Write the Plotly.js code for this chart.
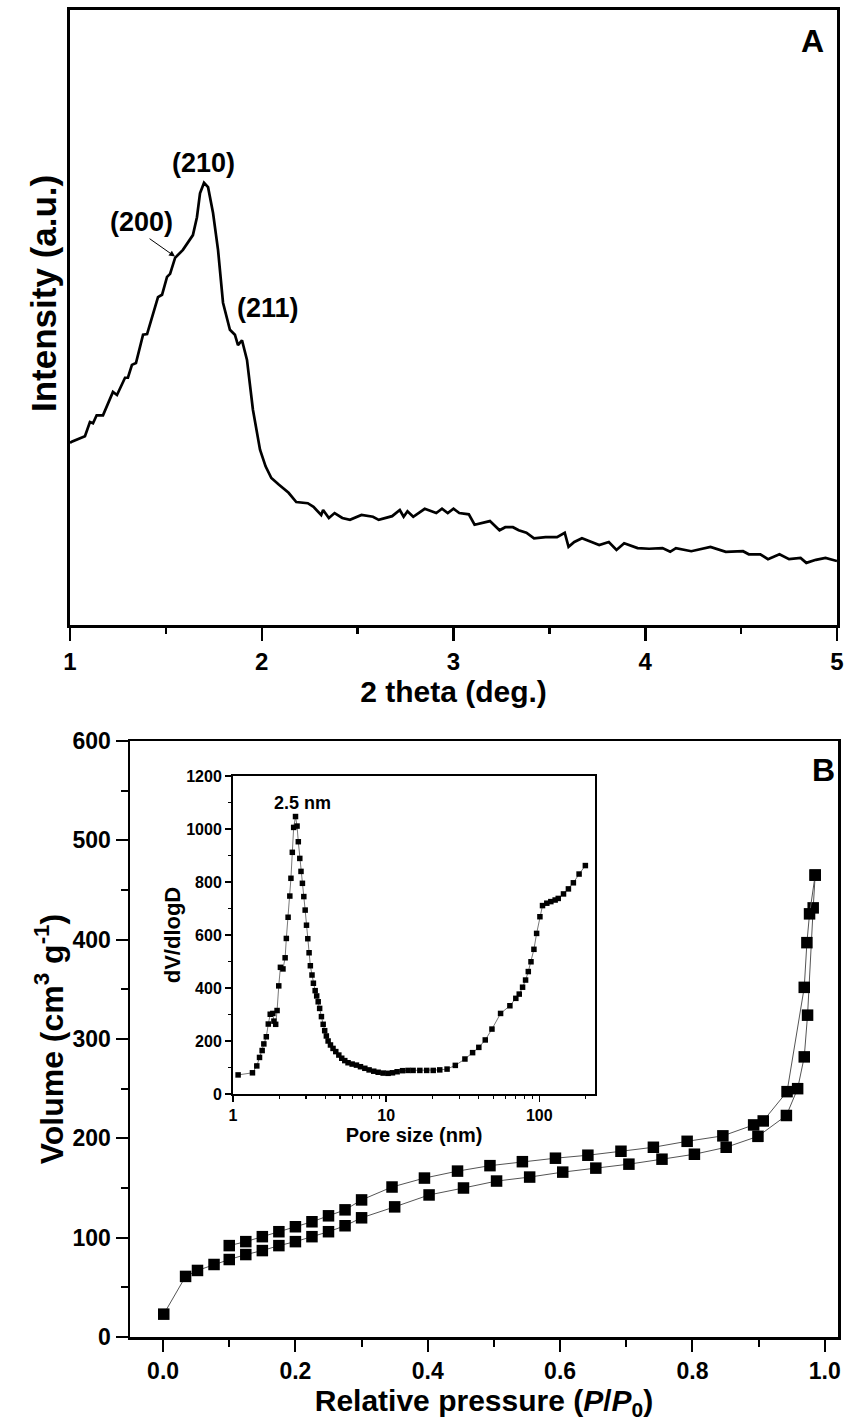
<!DOCTYPE html>
<html>
<head>
<meta charset="utf-8">
<script src="https://cdn.plot.ly/plotly-3.0.1.min.js"></script>
<style>html,body{margin:0;padding:0;background:#fff;}#chart{width:852px;height:1422px;}</style>
</head>
<body>
<div id="chart"></div>
<script>
// Panel A: XRD pattern
const thetaX = [1.00,1.009,1.078,1.104,1.120,1.139,1.172,1.224,1.245,1.287,1.302,1.323,1.344,1.381,1.402,1.459,1.480,1.506,1.522,1.548,1.589,1.615,1.641,1.662,1.678,1.699,1.720,1.746,1.772,1.798,1.834,1.860,1.876,1.897,1.923,1.954,1.991,2.02,2.05,2.09,2.14,2.18,2.24,2.27,2.31,2.32,2.35,2.38,2.42,2.46,2.52,2.58,2.61,2.68,2.72,2.74,2.76,2.79,2.85,2.91,2.94,2.97,3.00,3.03,3.08,3.11,3.16,3.19,3.24,3.27,3.31,3.34,3.38,3.42,3.48,3.54,3.58,3.60,3.63,3.67,3.72,3.76,3.81,3.85,3.89,3.96,4.02,4.09,4.13,4.16,4.24,4.29,4.34,4.42,4.51,4.54,4.60,4.64,4.70,4.75,4.81,4.84,4.89,4.94,5.00];
const intensity = [29.6,29.8,30.7,33.0,32.8,34.1,34.1,37.9,37.4,40.2,40.2,42.3,42.6,47.2,47.3,53.3,53.7,56.6,57.1,59.7,61.0,62.3,63.4,66.3,70.2,71.9,71.2,67.0,61.0,52.4,48.0,47.2,45.5,46.3,43.1,35.0,28.5,25.8,23.9,22.8,21.5,20.0,19.8,19.2,17.9,18.7,17.4,18.2,17.4,17.1,17.9,17.6,17.1,17.7,18.7,17.6,18.5,17.6,18.9,18.2,18.9,18.2,18.9,18.2,18.0,16.3,16.7,16.9,15.4,15.9,15.9,15.4,15.0,14.1,14.3,14.3,15.0,12.7,13.5,14.1,13.5,13.0,13.5,12.2,13.3,12.5,12.4,12.5,11.9,12.5,12.0,12.4,12.7,11.9,12.0,11.5,11.5,10.7,11.5,10.7,10.9,10.1,10.6,10.9,10.4];

// Panel B: N2 isotherm
const adsP = [0.001,0.034,0.052,0.077,0.100,0.125,0.150,0.175,0.200,0.225,0.250,0.275,0.300,0.350,0.402,0.454,0.504,0.554,0.604,0.654,0.704,0.754,0.803,0.851,0.899,0.942,0.959,0.969,0.974,0.9825,0.9855];
const adsV = [23,61,67,73,78,83,87,92,96,101,106,112,120,131,143,150,157,161,166,170,174,179,184,191,202,223,250,282,324,432,465];
const desP = [0.9855,0.977,0.973,0.969,0.943,0.907,0.8925,0.846,0.792,0.741,0.692,0.642,0.593,0.543,0.494,0.445,0.395,0.346,0.300,0.275,0.250,0.225,0.200,0.175,0.150,0.125,0.100];
const desV = [465,426,397,352,247,217.5,213.5,202.5,197,191,187,183,180,176.5,172.5,167,160,151,138,128,122,116,111,106,101,96,92];

// Inset: pore size distribution
const poreD = [1.08,1.34,1.43,1.49,1.55,1.59,1.65,1.70,1.75,1.82,1.85,1.90,1.94,1.99,2.04,2.12,2.19,2.23,2.29,2.35,2.39,2.44,2.49,2.56,2.62,2.67,2.73,2.78,2.84,2.90,2.96,3.02,3.08,3.14,3.20,3.28,3.35,3.44,3.52,3.60,3.68,3.78,3.88,3.97,4.07,4.18,4.33,4.50,4.69,4.91,5.13,5.37,5.64,6.00,6.40,6.80,7.26,7.74,8.30,8.87,9.56,10.3,11.0,11.8,12.8,13.9,15.0,16.6,18.4,20.3,22.4,25.0,28.3,32.7,36.7,40.3,44.4,49.1,55.9,64.3,70.3,74.0,77.8,81.4,84.8,88.3,92.3,96.1,101,105,112,119,127,133,144,155,167,182,200];
const dVdlogD = [72,80,106,138,164,189,216,264,301,304,275,263,315,408,478,472,514,587,667,747,814,912,1006,1047,1011,952,889,840,795,745,694,637,586,533,484,449,418,390,370,348,323,292,263,239,219,200,185,172,160,147,135,126,118,113,109,103,97,91,86,82,79,78,80,84,88,89,89,89,89,89,91,94,108,132,156,176,204,245,304,333,361,377,403,430,462,499,546,606,669,711,720,726,732,738,755,774,797,830,862];

const FAM = 'Liberation Sans, Arial, Helvetica, sans-serif';
function f(size){ return {family: FAM, size: size, color: '#000', weight: 'bold'}; }

const traces = [
  {x: thetaX, y: intensity, xaxis: 'x', yaxis: 'y', mode: 'lines',
   line: {color: '#000', width: 2.7}, showlegend: false, hoverinfo: 'skip'},
  {x: adsP, y: adsV, xaxis: 'x2', yaxis: 'y2', mode: 'lines+markers',
   line: {color: '#555', width: 1}, marker: {symbol: 'square', size: 11.5, color: '#000'}, showlegend: false},
  {x: desP, y: desV, xaxis: 'x2', yaxis: 'y2', mode: 'lines+markers',
   line: {color: '#555', width: 1}, marker: {symbol: 'square', size: 11.5, color: '#000'}, showlegend: false},
  {x: poreD, y: dVdlogD, xaxis: 'x3', yaxis: 'y3', mode: 'lines+markers',
   line: {color: '#555', width: 0.8}, marker: {symbol: 'square', size: 5.5, color: '#000'}, showlegend: false}
];

const common = {showgrid: false, zeroline: false, showline: true, mirror: true, linecolor: '#000'};

const layout = {
  width: 852, height: 1422, autosize: false,
  margin: {l: 0, r: 0, t: 0, b: 0},
  paper_bgcolor: '#fff', plot_bgcolor: 'rgba(0,0,0,0)',
  font: f(20),
  xaxis: Object.assign({}, common, {
    domain: [70/852, 837/852], anchor: 'y', range: [1, 5], dtick: 1,
    linewidth: 3, ticks: 'outside', ticklen: 13, tickwidth: 2.5, tickcolor: '#000',
    minor: {dtick: 0.5, ticks: 'outside', ticklen: 6, tickwidth: 2.5, tickcolor: '#000'},
    tickfont: f(24),
    title: {text: '2 theta (deg.)', font: f(30), standoff: 0}
  }),
  yaxis: Object.assign({}, common, {
    domain: [1 - 625/1422, 1 - 10/1422], anchor: 'x', range: [0, 100],
    linewidth: 3, ticks: '', showticklabels: false
  }),
  xaxis2: Object.assign({}, common, {
    domain: [130/852, 838/852], anchor: 'y2', range: [-0.05, 1.02], dtick: 0.2, tick0: 0,
    tickformat: '.1f', linewidth: 2.5, ticks: 'outside', ticklen: 12, tickwidth: 2, tickcolor: '#000',
    minor: {dtick: 0.1, ticks: 'outside', ticklen: 7, tickwidth: 2, tickcolor: '#000'},
    tickfont: f(23),
    title: {text: 'Relative pressure (<i>P</i>/<i>P</i><sub>0</sub>)', font: f(30), standoff: 1}
  }),
  yaxis2: Object.assign({}, common, {
    domain: [1 - 1337/1422, 1 - 741/1422], anchor: 'x2', range: [0, 600], dtick: 100,
    linewidth: 2.5, ticks: 'outside', ticklen: 12, tickwidth: 2, tickcolor: '#000',
    minor: {dtick: 50, ticks: 'outside', ticklen: 7, tickwidth: 2, tickcolor: '#000'},
    tickfont: f(23),
    title: {text: 'Volume (cm<sup>3</sup> g<sup>-1</sup>)', font: f(32), standoff: 0}
  }),
  xaxis3: Object.assign({}, common, {
    domain: [233/852, 595/852], anchor: 'y3', type: 'log', range: [0, 2.364], dtick: 1,
    linewidth: 2, ticks: 'outside', ticklen: 6, tickwidth: 1.5, tickcolor: '#000',
    minor: {dtick: 'D1', ticks: 'outside', ticklen: 3, tickwidth: 1.2, tickcolor: '#000'},
    tickfont: f(16),
    title: {text: 'Pore size (nm)', font: f(20), standoff: 0}
  }),
  yaxis3: Object.assign({}, common, {
    domain: [1 - 1094/1422, 1 - 776/1422], anchor: 'x3', range: [0, 1200], dtick: 200,
    linewidth: 2, ticks: 'outside', ticklen: 6, tickwidth: 1.5, tickcolor: '#000',
    minor: {dtick: 100, ticks: 'outside', ticklen: 3, tickwidth: 1.2, tickcolor: '#000'},
    tickfont: f(16),
    title: {text: 'dV/dlogD', font: f(22), standoff: 0}
  }),
  shapes: [
    {type: 'rect', xref: 'paper', yref: 'paper', x0: 233/852, x1: 595/852, y0: 1 - 1094/1422, y1: 1 - 776/1422,
     fillcolor: '#fff', line: {width: 0}, layer: 'below'}
  ],
  annotations: [
    {xref: 'paper', yref: 'paper', x: 43/852, y: 1 - 294/1422, text: 'Intensity (a.u.)', textangle: -90,
     xanchor: 'center', yanchor: 'middle', showarrow: false, font: f(35)},
    {xref: 'x', yref: 'y', x: 1.694, y: 75.1, text: '(210)', showarrow: false, font: f(27)},
    {xref: 'x', yref: 'y', x: 1.375, y: 65.5, text: '(200)', showarrow: false, font: f(27)},
    {xref: 'x', yref: 'y', x: 2.033, y: 51.5, text: '(211)', showarrow: false, font: f(27)},
    {xref: 'x', yref: 'y', x: 1.548, y: 59.9, text: '', showarrow: true, ax: -27, ay: -19,
     arrowhead: 2, arrowsize: 1.2, arrowwidth: 1, arrowcolor: '#000'},
    {xref: 'paper', yref: 'paper', x: 812/852, y: 1 - 41/1422, text: 'A', xanchor: 'center', yanchor: 'middle',
     showarrow: false, font: f(32)},
    {xref: 'paper', yref: 'paper', x: 823/852, y: 1 - 770/1422, text: 'B', xanchor: 'center', yanchor: 'middle',
     showarrow: false, font: f(32)},
    {xref: 'x3', yref: 'y3', x: 0.4556, y: 1098, text: '2.5 nm', showarrow: false, font: f(18)}
  ]
};

Plotly.newPlot('chart', traces, layout, {staticPlot: true, displayModeBar: false});
</script>
</body>
</html>
